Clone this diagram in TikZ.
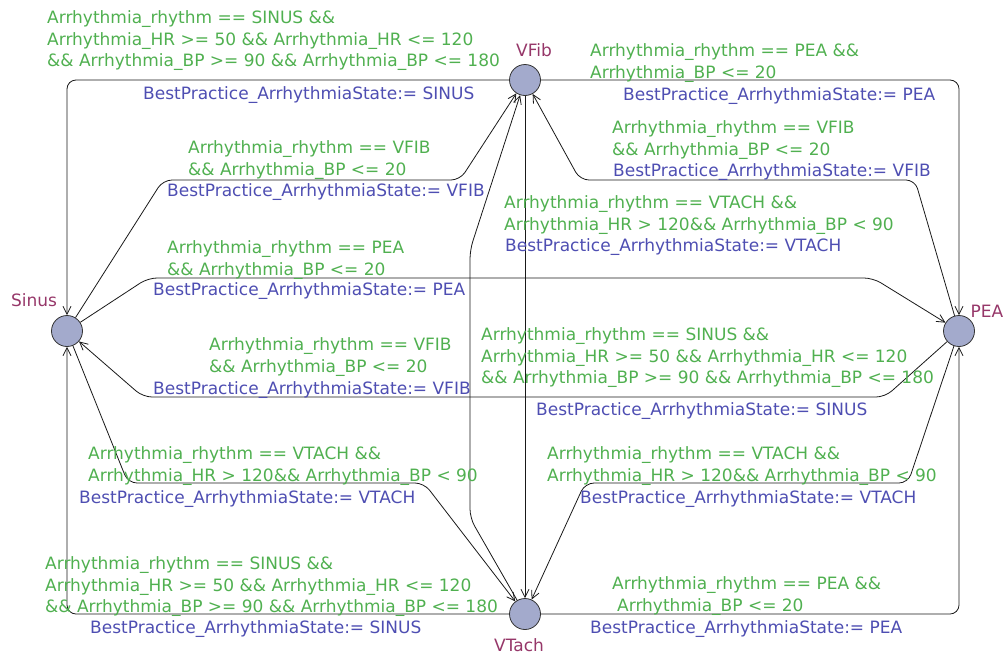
\documentclass[tikz,border=0pt]{standalone}
\usepackage{fontspec}
\setmainfont{DejaVu Sans}
\usetikzlibrary{arrows.meta}
\definecolor{guardgreen}{RGB}{80,176,80}
\definecolor{assignblue}{RGB}{78,78,178}
\definecolor{locname}{RGB}{150,55,105}
\definecolor{locfill}{RGB}{163,170,204}
\newcommand\lblfont{\fontsize{17}{21.5}\selectfont}
\begin{document}
\begin{tikzpicture}[x=1pt,y=-1pt,
  loc/.style={circle, draw=black!80, fill=locfill, line width=0.8pt,
              minimum size=31pt, inner sep=0pt},
  locname/.style={text=locname, font=\lblfont, inner sep=0pt},
  guard/.style={text=guardgreen, font=\lblfont, align=left,
                anchor=north west, inner sep=0pt},
  assign/.style={text=assignblue, font=\lblfont, anchor=north west, inner sep=0pt},
  edge/.style={draw=black!90, line width=0.8pt, rounded corners=9pt,
               -{Straight Barb[length=8pt,width=8pt]}}
]
\path[use as bounding box] (0,0) rectangle (1003,656);

% locations
\node[loc] (VFib)  at (525,80)  {};
\node[loc] (Sinus) at (67,331)  {};
\node[loc] (PEA)   at (959,331) {};
\node[loc] (VTach) at (525,614) {};
\node[locname] (nVFib)  at (534,50)  {VFib};
\node[locname] (nSinus) at (34,300)  {Sinus};
\node[locname] (nPEA)   at (987,311) {PEA};
\node[locname] (nVTach) at (519,645) {VTach};

% bend points
\coordinate (tl)  at (67,80);
\coordinate (tr)  at (959,80);
\coordinate (bl)  at (67,614);
\coordinate (br)  at (959,614);
\coordinate (sv1) at (163,180);
\coordinate (sv2) at (460,180);
\coordinate (pv1) at (915,180);
\coordinate (pv2) at (580,180);
\coordinate (sp1) at (148,278);
\coordinate (sp2) at (873,278);
\coordinate (ps1) at (885,397);
\coordinate (ps2) at (143,397);
\coordinate (tv1) at (470,518);
\coordinate (tv2) at (470,250);
\coordinate (st1) at (128,483);
\coordinate (st2) at (424,483);
\coordinate (pt1) at (908,483);
\coordinate (pt2) at (585,483);

% transitions
\draw[edge] (VFib) -- (tl) -- (Sinus);
\draw[edge] (Sinus) -- (sv1) -- (sv2) -- (VFib);
\draw[edge] (VFib) -- (tr) -- (PEA);
\draw[edge] (PEA) -- (pv1) -- (pv2) -- (VFib);
\draw[edge] (Sinus) -- (sp1) -- (sp2) -- (PEA);
\draw[edge] (PEA) -- (ps1) -- (ps2) -- (Sinus);
\draw[edge] (VFib) -- (VTach);
\draw[edge] (VTach) -- (tv1) -- (tv2) -- (VFib);
\draw[edge] (Sinus) -- (st1) -- (st2) -- (VTach);
\draw[edge] (PEA) -- (pt1) -- (pt2) -- (VTach);
\draw[edge] (VTach) -- (bl) -- (Sinus);
\draw[edge] (VTach) -- (br) -- (PEA);

% guards and updates
\node[guard] (g1) at (47,10.5) {Arrhythmia\_rhythm == SINUS \&\&\\Arrhythmia\_HR >= 50 \&\& Arrhythmia\_HR <= 120\\\&\& Arrhythmia\_BP >= 90 \&\& Arrhythmia\_BP <= 180};
\node[assign] (a1) at (143,86.5) {BestPractice\_ArrhythmiaState:= SINUS};

\node[guard] (g2) at (188,140.5) {Arrhythmia\_rhythm == VFIB\\\&\& Arrhythmia\_BP <= 20};
\node[assign] (a2) at (167,183.5) {BestPractice\_ArrhythmiaState:= VFIB};

\node[guard] (g3) at (590,43.5) {Arrhythmia\_rhythm == PEA \&\&\\Arrhythmia\_BP <= 20};
\node[assign] (a3) at (623,87.5) {BestPractice\_ArrhythmiaState:= PEA};

\node[guard] (g4) at (612,120.5) {Arrhythmia\_rhythm == VFIB\\\&\& Arrhythmia\_BP <= 20};
\node[assign] (a4) at (613,163.5) {BestPractice\_ArrhythmiaState:= VFIB};

\node[guard] (g5) at (504,195.5) {Arrhythmia\_rhythm == VTACH \&\&\\Arrhythmia\_HR > 120\&\& Arrhythmia\_BP < 90};
\node[assign] (a5) at (505,238.5) {BestPractice\_ArrhythmiaState:= VTACH};

\node[guard] (g6) at (167,240.5) {Arrhythmia\_rhythm == PEA\\\&\& Arrhythmia\_BP <= 20};
\node[assign] (a6) at (153,282.5) {BestPractice\_ArrhythmiaState:= PEA};

\node[guard] (g7) at (209,337.5) {Arrhythmia\_rhythm == VFIB\\\&\& Arrhythmia\_BP <= 20};
\node[assign] (a7) at (153,381.5) {BestPractice\_ArrhythmiaState:= VFIB};

\node[guard] (g8) at (481,327.5) {Arrhythmia\_rhythm == SINUS \&\&\\Arrhythmia\_HR >= 50 \&\& Arrhythmia\_HR <= 120\\\&\& Arrhythmia\_BP >= 90 \&\& Arrhythmia\_BP <= 180};
\node[assign] (a8) at (536,402.5) {BestPractice\_ArrhythmiaState:= SINUS};

\node[guard] (g9) at (88,446.5) {Arrhythmia\_rhythm == VTACH \&\&\\Arrhythmia\_HR > 120\&\& Arrhythmia\_BP < 90};
\node[assign] (a9) at (79,490.5) {BestPractice\_ArrhythmiaState:= VTACH};

\node[guard] (g10) at (547,446.5) {Arrhythmia\_rhythm == VTACH \&\&\\Arrhythmia\_HR > 120\&\& Arrhythmia\_BP < 90};
\node[assign] (a10) at (580,490.5) {BestPractice\_ArrhythmiaState:= VTACH};

\node[guard] (g11) at (45,556.5) {Arrhythmia\_rhythm == SINUS \&\&\\Arrhythmia\_HR >= 50 \&\& Arrhythmia\_HR <= 120\\\&\& Arrhythmia\_BP >= 90 \&\& Arrhythmia\_BP <= 180};
\node[assign] (a11) at (90,620.5) {BestPractice\_ArrhythmiaState:= SINUS};

\node[guard] (g12) at (612,576.5) {Arrhythmia\_rhythm == PEA \&\&\\\hspace*{5pt}Arrhythmia\_BP <= 20};
\node[assign] (a12) at (590,620.5) {BestPractice\_ArrhythmiaState:= PEA};
\end{tikzpicture}
\end{document}
